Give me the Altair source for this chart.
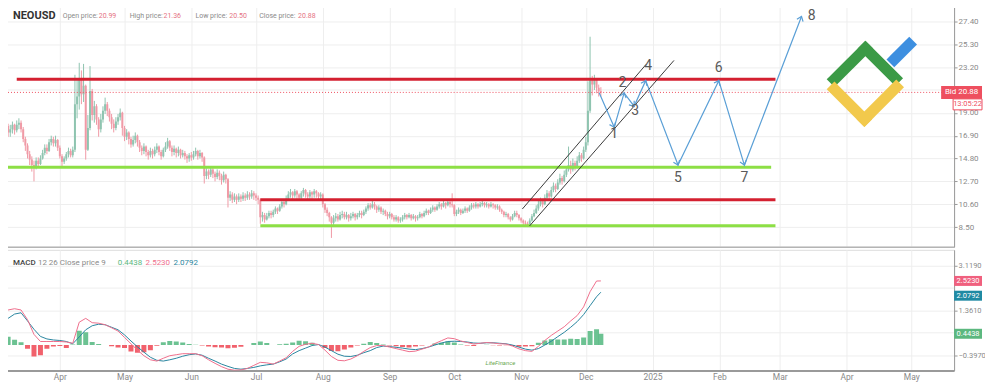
import math
import altair as alt
import pandas as pd

# ---------------- data ----------------
START = "2024-03-05"
FIRST_OPEN = 18.9
close = [
    16.6, 17.3, 17.8, 17.2, 17.5, 17.9, 17.4, 17.9, 18.1, 17.5,
    16.6, 16.0, 15.2, 14.7, 14.2, 14.0, 14.6, 14.3, 14.8, 15.3,
    15.8, 15.5, 16.3, 16.6, 16.2, 16.5, 15.8, 15.0, 14.5, 14.8,
    15.2, 15.5, 15.1, 15.6, 19.8, 20.5, 22.2, 20.7, 21.5, 15.6,
    17.6, 21.0, 18.8, 19.6, 18.4, 17.5, 18.4, 19.2, 19.8, 19.2,
    18.6, 18.0, 17.6, 18.2, 18.6, 19.0, 17.6, 16.8, 17.2, 16.6,
    16.1, 16.5, 16.9, 16.3, 15.8, 15.5, 15.9, 15.4, 15.1, 15.5,
    15.2, 15.6, 15.9, 15.4, 15.0, 15.6, 15.9, 16.4, 15.8, 15.4,
    15.7, 15.3, 15.6, 15.1, 15.3, 15.0, 14.8, 15.1, 14.9, 15.2,
    15.5, 15.0, 15.3, 14.9, 13.2, 13.6, 13.3, 13.8, 13.4, 13.1,
    13.5, 13.2, 12.8, 13.3, 12.9, 11.2, 11.5, 11.0, 11.3, 11.0,
    11.3, 11.1, 11.4, 11.2, 11.5, 11.3, 11.6, 11.4, 11.2, 11.0,
    9.4, 9.6, 9.2, 9.5, 9.8, 9.6, 9.9, 10.2, 10.0, 10.4,
    10.8, 10.6, 11.1, 11.5, 11.7, 11.4, 11.8, 11.5, 11.2, 11.6,
    11.9, 11.5, 11.3, 11.7, 11.5, 11.8, 11.6, 11.3, 11.5, 10.6,
    10.1, 9.8, 9.4, 8.9, 9.3, 9.5, 9.2, 9.6, 9.7, 9.4,
    9.6, 9.3, 9.5, 9.7, 9.4, 9.6, 9.8, 9.6, 9.9, 10.2,
    10.5, 10.3, 10.6, 10.4, 10.1, 10.3, 9.9, 10.0, 9.7, 9.5,
    9.7, 9.4, 9.2, 9.4, 9.1, 9.2, 9.4, 9.6, 9.4, 9.6,
    9.3, 9.5, 9.3, 9.4, 9.7, 9.5, 9.8, 10.0, 9.8, 10.1,
    10.3, 10.1, 10.4, 10.6, 10.4, 10.7, 10.5, 10.8, 10.6, 10.5,
    9.7, 9.9, 10.1, 9.8, 10.0, 10.2, 10.0, 10.3, 10.5, 10.4,
    10.6, 10.4, 10.6, 10.7, 10.5, 10.6, 10.4, 10.6, 10.5, 10.3,
    10.4, 10.1, 9.9, 9.6, 9.7, 9.4, 9.2, 9.5, 9.8, 9.6,
    9.3, 9.1, 8.9, 8.8, 8.7, 9.1, 9.5, 9.8, 10.2, 10.6,
    10.9, 10.6, 11.2, 11.6, 11.3, 11.9, 12.3, 12.0, 12.6, 13.0,
    12.7, 13.3, 13.8, 14.2, 13.8, 14.4, 14.0, 14.6, 15.1, 14.8,
    15.6, 16.3, 19.2, 22.0, 21.6, 22.1, 21.3, 20.99, 20.88,
]
high = [
    19.0, 17.8, 18.1, 18.0, 17.9, 18.2, 18.0, 18.3, 18.5, 18.3,
    17.7, 16.8, 16.2, 15.5, 15.0, 14.6, 14.9, 14.9, 15.1, 15.6,
    16.1, 16.1, 16.6, 16.9, 16.8, 16.9, 16.6, 16.0, 15.2, 15.0,
    15.4, 15.8, 15.7, 15.9, 22.5, 22.0, 23.6, 22.9, 23.5, 21.6,
    18.8, 23.3, 21.2, 20.1, 19.8, 18.6, 18.9, 19.6, 20.4, 20.0,
    19.4, 18.9, 18.4, 18.6, 18.9, 19.4, 19.1, 17.8, 17.5, 17.3,
    16.8, 16.9, 17.2, 17.0, 16.5, 16.0, 16.2, 16.0, 15.6, 15.8,
    15.7, 15.9, 16.2, 16.0, 15.6, 15.8, 16.3, 16.7, 16.5, 16.0,
    16.0, 15.8, 15.9, 15.7, 15.6, 15.5, 15.2, 15.3, 15.4, 15.5,
    15.8, 15.6, 15.6, 15.4, 15.0, 13.9, 13.8, 14.0, 13.9, 13.6,
    13.8, 13.7, 13.4, 13.6, 13.4, 13.0, 11.8, 11.7, 11.6, 11.5,
    11.6, 11.5, 11.7, 11.6, 11.8, 11.7, 11.9, 11.8, 11.6, 11.4,
    11.1, 9.9, 9.8, 9.8, 10.0, 10.0, 10.1, 10.4, 10.3, 10.6,
    11.0, 11.0, 11.4, 11.8, 12.0, 11.8, 12.0, 11.9, 11.6, 11.8,
    12.1, 12.0, 11.7, 11.9, 11.8, 12.0, 11.9, 11.7, 11.7, 11.6,
    10.7, 10.3, 9.9, 9.5, 9.6, 9.8, 9.7, 9.9, 10.0, 9.9,
    9.9, 9.7, 9.8, 9.9, 9.8, 9.8, 10.0, 10.0, 10.1, 10.4,
    10.7, 10.7, 10.9, 10.8, 10.5, 10.5, 10.4, 10.2, 10.1, 9.9,
    9.9, 9.8, 9.6, 9.6, 9.5, 9.4, 9.6, 9.8, 9.7, 9.8,
    9.7, 9.7, 9.6, 9.6, 9.9, 9.8, 10.0, 10.2, 10.1, 10.3,
    10.5, 10.4, 10.6, 10.8, 10.7, 10.9, 10.8, 11.0, 10.9, 11.6,
    10.6, 10.1, 10.3, 10.2, 10.2, 10.4, 10.3, 10.5, 10.7, 10.7,
    10.8, 10.7, 10.8, 10.9, 10.8, 10.8, 10.7, 10.8, 10.7, 10.6,
    10.6, 10.5, 10.2, 10.0, 9.9, 9.8, 9.5, 9.7, 10.0, 10.0,
    9.7, 9.4, 9.2, 9.1, 9.0, 9.3, 9.7, 10.1, 10.5, 10.9,
    11.2, 11.1, 11.5, 11.9, 11.8, 12.2, 12.6, 12.5, 12.9, 13.4,
    13.2, 13.7, 14.1, 15.9, 14.6, 14.8, 14.6, 15.0, 15.4, 15.3,
    15.9, 16.8, 21.9, 26.0, 22.4, 22.5, 22.2, 21.6, 21.36,
]
low = [
    14.4, 16.2, 16.9, 16.8, 16.8, 17.1, 17.0, 17.2, 17.5, 17.2,
    16.3, 15.5, 14.8, 14.2, 13.6, 12.7, 13.8, 14.0, 14.2, 14.7,
    15.1, 15.2, 15.4, 16.0, 15.9, 15.9, 15.5, 14.8, 14.1, 14.3,
    14.6, 14.9, 14.9, 14.9, 15.4, 18.5, 19.3, 19.8, 20.0, 14.7,
    15.5, 17.4, 18.3, 18.1, 17.9, 16.8, 17.2, 18.1, 18.9, 18.7,
    18.2, 17.5, 17.2, 17.4, 17.9, 18.3, 16.9, 16.4, 16.5, 16.1,
    15.8, 15.9, 16.2, 15.9, 15.4, 15.1, 15.2, 15.0, 14.7, 14.9,
    14.8, 15.0, 15.3, 15.1, 14.7, 14.9, 15.4, 15.7, 15.5, 15.0,
    15.1, 14.9, 15.0, 14.8, 14.9, 14.7, 14.4, 14.5, 14.6, 14.7,
    15.0, 14.7, 14.8, 14.5, 12.5, 12.9, 12.9, 13.1, 13.0, 12.7,
    12.9, 12.8, 12.4, 12.6, 12.5, 10.3, 10.9, 10.7, 10.8, 10.6,
    10.8, 10.8, 10.9, 10.9, 11.0, 11.0, 11.1, 11.0, 10.9, 10.6,
    8.8, 9.0, 8.9, 9.1, 9.3, 9.3, 9.4, 9.7, 9.7, 9.9,
    10.2, 10.3, 10.5, 10.9, 11.2, 11.1, 11.2, 11.1, 10.9, 11.0,
    11.3, 11.2, 11.0, 11.1, 11.1, 11.2, 11.2, 11.0, 11.0, 10.3,
    9.8, 9.5, 9.0, 7.5, 8.7, 9.0, 9.0, 9.1, 9.3, 9.2,
    9.2, 9.0, 9.1, 9.3, 9.1, 9.2, 9.4, 9.3, 9.5, 9.7,
    10.0, 10.1, 10.2, 10.1, 9.8, 9.9, 9.7, 9.6, 9.5, 9.2,
    9.3, 9.2, 9.0, 9.0, 8.9, 8.9, 9.0, 9.2, 9.2, 9.3,
    9.1, 9.2, 9.0, 9.1, 9.3, 9.3, 9.4, 9.6, 9.6, 9.7,
    9.9, 9.9, 10.0, 10.2, 10.1, 10.3, 10.2, 10.4, 10.3, 10.3,
    9.5, 9.5, 9.7, 9.6, 9.7, 9.8, 9.8, 9.9, 10.1, 10.2,
    10.2, 10.2, 10.3, 10.4, 10.3, 10.3, 10.2, 10.3, 10.2, 10.1,
    10.1, 9.9, 9.7, 9.4, 9.4, 9.2, 9.0, 9.1, 9.4, 9.4,
    9.1, 8.9, 8.7, 8.6, 8.5, 8.6, 9.0, 9.4, 9.7, 10.0,
    10.4, 10.3, 10.5, 11.0, 11.0, 11.2, 11.7, 11.7, 11.9, 12.4,
    12.4, 12.6, 13.1, 13.6, 13.4, 13.6, 13.7, 13.9, 14.4, 14.5,
    14.7, 15.4, 16.0, 19.0, 20.6, 21.1, 20.8, 20.5, 20.50,
]

# MACD indicator, read every 3rd day
MACD_STEP_DAYS = list(range(0, 277, 3)) + [278]
macd_vals = [
    1.29, 1.38, 1.43, 1.38, 1.0, 0.42, 0.14, 0.14, 0.14, 0.14,
    0.12, 0.07, 0.9, 1.05, 0.88, 0.86, 0.8, 0.68, 0.55, 0.3,
    0.05, -0.2, -0.42, -0.58, -0.63, -0.52, -0.42, -0.38, -0.34, -0.34,
    -0.34, -0.42, -0.58, -0.72, -0.85, -0.95, -0.99, -0.98, -0.92, -0.8,
    -0.68, -0.7, -0.75, -0.63, -0.5, -0.25, -0.05, 0.03, 0.07, 0.02,
    -0.2, -0.45, -0.6, -0.62, -0.55, -0.42, -0.25, -0.1, -0.02, -0.02,
    -0.08, -0.14, -0.2, -0.26, -0.24, -0.16, -0.08, 0.06, 0.17, 0.28,
    0.25, 0.16, 0.1, 0.04, 0.07, 0.1, 0.08, 0.05, 0.04, -0.04,
    -0.15, -0.22, -0.25, -0.05, 0.18, 0.38, 0.55, 0.72, 0.95, 1.16,
    1.5, 2.1, 2.52, 2.523,
]
signal_vals = [
    0.88, 1.05, 1.22, 1.27, 0.95, 0.62, 0.34, 0.24, 0.2, 0.18,
    0.14, 0.05, 0.32, 0.6, 0.76, 0.82, 0.8, 0.7, 0.6, 0.4,
    0.16, -0.07, -0.28, -0.48, -0.6, -0.63, -0.58, -0.52, -0.44, -0.38,
    -0.35, -0.4, -0.52, -0.63, -0.75, -0.84, -0.92, -0.95, -0.92, -0.88,
    -0.82, -0.78, -0.75, -0.66, -0.55, -0.35, -0.22, -0.12, -0.02, 0.02,
    -0.08, -0.22, -0.36, -0.44, -0.45, -0.4, -0.3, -0.22, -0.1, -0.04,
    -0.06, -0.09, -0.12, -0.16, -0.18, -0.14, -0.08, 0.0, 0.08, 0.14,
    0.15, 0.14, 0.12, 0.08, 0.07, 0.09, 0.09, 0.07, 0.05, 0.0,
    -0.08, -0.16, -0.2, -0.14, 0.0, 0.15, 0.33, 0.5, 0.7, 0.92,
    1.2, 1.55, 1.9, 2.0792,
]
hist_vals = [
    0.4, 0.33, 0.21, 0.11, -0.15, -0.45, -0.4, -0.15, -0.06, -0.04,
    -0.12, 0.02, 0.56, 0.5, 0.12, 0.04, 0.0, -0.05, -0.1, -0.12,
    -0.25, -0.3, -0.28, -0.2, -0.03, 0.11, 0.16, 0.14, 0.1, 0.04,
    0.01, -0.02, -0.06, -0.09, -0.1, -0.13, -0.11, -0.07, 0.0, 0.08,
    0.14, 0.08, 0.0, 0.03, 0.05, 0.1, 0.17, 0.15, 0.09, 0.0,
    -0.12, -0.23, -0.24, -0.18, -0.1, -0.02, 0.05, 0.12, 0.08, 0.02,
    -0.02, -0.05, -0.08, -0.1, -0.06, -0.02, 0.0, 0.06, 0.09, 0.14,
    0.1, 0.02, -0.02, -0.04, 0.0, 0.01, -0.01, -0.02, -0.01, -0.04,
    -0.07, -0.06, -0.05, 0.09, 0.18, 0.23, 0.22, 0.22, 0.25, 0.24,
    0.3, 0.55, 0.62, 0.4438,
]

# support / resistance levels
level_kind = ["red", "green", "red", "green"]
level_price = [22.08, 14.0, 11.0, 8.62]
level_start = ["2024-03-12", "2024-03-07", "2024-07-03", "2024-07-03"]
level_end = ["2025-02-27", "2025-02-25", "2025-02-27", "2025-02-27"]

# rising channel
channel_start = ["2024-11-01T14:00", "2024-11-04T22:00"]
channel_start_price = [10.16, 8.60]
channel_end = ["2024-12-29T00:00", "2025-01-10T22:00"]
channel_end_price = [23.46, 23.82]

# forecast path
path_dates = ["2024-12-07T05:00", "2024-12-14T05:00", "2024-12-18T19:00", "2024-12-23T10:00",
              "2024-12-28T19:00", "2025-01-12T19:00", "2025-01-31T17:00", "2025-02-12T14:00",
              "2025-03-11T02:00"]
path_prices = [20.85, 17.68, 20.83, 19.61, 21.96, 14.2, 21.96, 14.2, 27.86]
wave_labels = ["1", "2", "3", "4", "5", "6", "7", "8"]
wave_label_dates = ["2024-12-14T05:00", "2024-12-18T00:00", "2024-12-23T22:00", "2024-12-29T22:00",
                    "2025-01-12T19:00", "2025-01-31T17:00", "2025-02-12T14:00", "2025-03-15T19:00"]
wave_label_prices = [17.04, 21.71, 19.15, 23.27, 13.0, 23.09, 13.0, 27.9]

BID = 20.88
price_ticks = [8.5, 10.6, 12.7, 14.8, 16.9, 19.0, 23.2, 25.3, 27.4]
price_hidden_ticks = [21.1]
macd_ticks = [3.119, 1.361, -0.397]
macd_hidden_ticks = [2.24, 0.482]
month_starts = ["2024-04-01", "2024-05-01", "2024-06-01", "2024-07-01", "2024-08-01", "2024-09-01",
                "2024-10-01", "2024-11-01", "2024-12-01", "2025-01-01", "2025-02-01", "2025-03-01",
                "2025-04-01", "2025-05-01"]

# ---------------- layout / style ----------------
W, H1, H2 = 956, 246, 121
X_DOM = ["2024-03-04T17:00", "2025-05-20T21:00"]
Y_DOM = [6.68, 29.23]
M_DOM = [-1.0, 3.747]
FONT = "Roboto"
UP, DOWN = "#8fc4b0", "#f09aa6"
RED, GREEN, BLUE = "#d42030", "#8ddf45", "#5a9fd6"
BIDC = "#ee4f5f"
PINK, TEAL = "#ef6f8d", "#2a86a0"
HGREEN, HRED = "#5cbb86", "#f0505c"
GRID = "#eeeeee"
AX = "#9a9a9a"
LBL = "#8a8a8a"


def iso(s):
    return pd.Timestamp(s).strftime("%Y-%m-%dT%H:%M:%SZ")


def ms(s):
    return int(pd.Timestamp(s).value // 10**6)


X0, X1 = ms(X_DOM[0]), ms(X_DOM[1])


def sx(s):
    return (ms(s) - X0) / (X1 - X0) * W


def sy(p):
    return (Y_DOM[1] - p) / (Y_DOM[1] - Y_DOM[0]) * H1


def my(v):
    return (M_DOM[1] - v) / (M_DOM[1] - M_DOM[0]) * H2


month_ts = [ms(m) for m in month_starts]
xscale = alt.Scale(type="utc", domain=[X0, X1], padding=0)

P_XAXIS = alt.Axis(values=month_ts, labels=False, ticks=False, grid=True, gridColor=GRID,
                   domain=True, domainColor="#b4b4b4", domainWidth=1.5, title=None)
P_YAXIS = alt.Axis(orient="right", values=price_ticks, format=".2f", grid=True, gridColor=GRID,
                   labelColor=LBL, labelFontSize=8, labelFont=FONT, tickColor=AX, tickSize=3,
                   domainColor=AX, labelOverlap=False, labelPadding=1, title=None)
M_XAXIS = alt.Axis(values=month_ts,
                   labelExpr="utcFormat(datum.value, '%m') == '01' ? utcFormat(datum.value, '%Y') : utcFormat(datum.value, '%b')",
                   labelColor=LBL, labelFontSize=8.5, labelFont=FONT, labelPadding=2, ticks=False,
                   grid=True, gridColor=GRID, domainColor=AX, domainWidth=2, labelFlush=False,
                   labelOverlap=False, title=None)
M_YAXIS = alt.Axis(orient="right", values=macd_ticks, format=".4f", grid=True, gridColor=GRID,
                   labelColor=LBL, labelFontSize=7.5, labelFont=FONT, tickColor=AX, tickSize=3,
                   domainColor=AX, labelOverlap=False, labelPadding=1, title=None)


def PX(f="date"):
    return alt.X(f"{f}:T", scale=xscale, axis=P_XAXIS)


def PY(f):
    return alt.Y(f"{f}:Q", scale=alt.Scale(domain=Y_DOM, zero=False, nice=False, padding=0), axis=P_YAXIS)


def MX(f="date"):
    return alt.X(f"{f}:T", scale=xscale, axis=M_XAXIS)


def MY(f):
    return alt.Y(f"{f}:Q", scale=alt.Scale(domain=M_DOM, zero=False, nice=False, padding=0), axis=M_YAXIS)


ONE = alt.Data(values=[{"k": 1}])


def label(text, x, y, color, size, weight="normal", align="left", style="normal"):
    return alt.Chart(ONE).mark_text(text=text, color=color, fontSize=size, fontWeight=weight,
                                    font=FONT, align=align, baseline="middle", fontStyle=style).encode(
        x=alt.value(x), y=alt.value(y))


def box(x1, x2, y1, y2, fill, stroke=None):
    kw = dict(fill=fill)
    if stroke:
        kw.update(stroke=stroke, strokeWidth=1)
    return alt.Chart(ONE).mark_rect(**kw).encode(x=alt.value(x1), x2=alt.value(x2),
                                                  y=alt.value(y1), y2=alt.value(y2))


# ---------------- price panel ----------------
n = len(close)
dates = [iso(pd.Timestamp(START) + pd.Timedelta(days=i)) for i in range(n)]
opens = [FIRST_OPEN] + close[:-1]
cdf = pd.DataFrame({"date": dates, "open": opens, "high": high, "low": low, "close": close})
up_df = cdf[cdf["close"] >= cdf["open"]]
dn_df = cdf[cdf["close"] < cdf["open"]]

layers = [alt.Chart(pd.DataFrame({"p": price_hidden_ticks})).mark_rule(color=GRID, strokeWidth=1).encode(
    y=PY("p"))]
for d, c in ((up_df, UP), (dn_df, DOWN)):
    layers.append(alt.Chart(d).mark_rule(color=c, strokeWidth=1, clip=True).encode(
        x=PX(), y=PY("low"), y2=alt.Y2("high:Q")))
    layers.append(alt.Chart(d).mark_bar(color=c, size=2, clip=True).encode(
        x=PX(), y=PY("open"), y2=alt.Y2("close:Q")))

ldf = pd.DataFrame({"kind": level_kind, "price": level_price,
                    "start": [iso(s) for s in level_start], "end": [iso(s) for s in level_end]})
for kind, c in (("green", GREEN), ("red", RED)):
    layers.append(alt.Chart(ldf[ldf["kind"] == kind]).mark_rule(color=c, strokeWidth=3, clip=True).encode(
        x=PX("start"), x2=alt.X2("end:T"), y=PY("price")))

layers.append(alt.Chart(pd.DataFrame({"p": [BID]})).mark_rule(
    color=BIDC, strokeDash=[1, 2], strokeWidth=1).encode(y=PY("p")))

chdf = pd.DataFrame({"s": [iso(s) for s in channel_start], "sp": channel_start_price,
                     "e": [iso(s) for s in channel_end], "ep": channel_end_price})
layers.append(alt.Chart(chdf).mark_rule(color="#3a3a3a", strokeWidth=1).encode(
    x=PX("s"), x2=alt.X2("e:T"), y=PY("sp"), y2=alt.Y2("ep:Q")))

pdf = pd.DataFrame({"date": [iso(s) for s in path_dates], "price": path_prices,
                    "step": list(range(len(path_dates)))})
layers.append(alt.Chart(pdf).mark_line(color=BLUE, strokeWidth=1.2).encode(
    x=PX(), y=PY("price"), order="step:Q"))

angles = []
for k in range(1, len(path_dates)):
    dx = sx(path_dates[k]) - sx(path_dates[k - 1])
    dy = sy(path_prices[k]) - sy(path_prices[k - 1])
    angles.append(math.degrees(math.atan2(dx, -dy)) % 360)
adf = pd.DataFrame({"date": [iso(s) for s in path_dates[1:]], "price": path_prices[1:], "angle": angles})
CHEV = "M-0.7,0.9L0,0L0.7,0.9"
layers.append(alt.Chart(adf).mark_point(shape=CHEV, filled=False, stroke=BLUE, strokeWidth=1.2,
                                        size=90, opacity=1).encode(
    x=PX(), y=PY("price"), angle=alt.Angle("angle:Q", scale=None)))

wdf = pd.DataFrame({"date": [iso(s) for s in wave_label_dates], "price": wave_label_prices,
                    "label": wave_labels})
layers.append(alt.Chart(wdf).mark_text(fontSize=14, color="#5a5a5a", font=FONT).encode(
    x=PX(), y=PY("price"), text="label:N"))

# logo (decorative)
for (x1, y1, x2, y2, c) in [
    (836, 78, 867, 47, "#3b9a46"), (867, 47, 897, 77, "#3b9a46"),
    (836, 88, 866, 118, "#f2c94c"), (866, 118, 898, 86, "#f2c94c"),
    (896, 58, 911, 43, "#3d8fe0"),
]:
    layers.append(alt.Chart(ONE).mark_rule(color=c, strokeWidth=11, strokeCap="square").encode(
        x=alt.value(x1), x2=alt.value(x2), y=alt.value(y1), y2=alt.value(y2)))

# bid tag
by = sy(BID)
layers.append(box(943, 984, by - 6.5, by + 6.5, BIDC))
layers.append(label("Bid 20.88", 963.5, by, "white", 8, align="center"))
layers.append(box(955, 984, by + 6.5, by + 17.5, "white", BIDC))
layers.append(label("13:05:22", 969.5, by + 12, BIDC, 7.5, align="center"))

# header
layers += [
    label("NEOUSD", 12, 14, "#333333", 11, weight="bold"),
    label("Open price:", 62, 14, LBL, 7),
    label("20.99", 98, 14, "#e57383", 7),
    label("High price:", 129, 14, LBL, 7),
    label("21.36", 163, 14, "#e57383", 7),
    label("Low price:", 195, 14, LBL, 7),
    label("20.50", 229, 14, "#e57383", 7),
    label("Close price:", 259, 14, LBL, 7),
    label("20.88", 298, 14, "#e57383", 7),
]

price_panel = alt.layer(*layers).properties(width=W, height=H1)

# ---------------- MACD panel ----------------
mdates = [iso(pd.Timestamp(START) + pd.Timedelta(days=i)) for i in MACD_STEP_DAYS]
mdf = pd.DataFrame({"date": mdates, "macd": macd_vals, "signal": signal_vals, "hist": hist_vals})
mlayers = [
    alt.Chart(pd.DataFrame({"v": macd_hidden_ticks})).mark_rule(color=GRID, strokeWidth=1).encode(y=MY("v")),
    alt.Chart(mdf[mdf["hist"] >= 0]).mark_bar(color=HGREEN, size=5, opacity=0.9, clip=True).encode(
        x=MX(), y=MY("hist"), y2=alt.datum(0)),
    alt.Chart(mdf[mdf["hist"] < 0]).mark_bar(color=HRED, size=5, opacity=0.9, clip=True).encode(
        x=MX(), y=MY("hist"), y2=alt.datum(0)),
    alt.Chart(mdf).mark_line(color=TEAL, strokeWidth=1, clip=True).encode(x=MX(), y=MY("signal")),
    alt.Chart(mdf).mark_line(color=PINK, strokeWidth=1, clip=True).encode(x=MX(), y=MY("macd")),
]
my1, my2, my3 = my(2.523), my(2.0792) + 3.5, my(0.4438)
mlayers += [
    box(956, 984, my1 - 5, my1 + 5, "#f0607e"),
    label("2.5230", 958.5, my1, "white", 7.5),
    box(956, 984, my2 - 5, my2 + 5, "#1f8aa3"),
    label("2.0792", 958.5, my2, "white", 7.5),
    box(956, 984, my3 - 5, my3 + 5, "#5cb87f"),
    label("0.4438", 958.5, my3, "white", 7.5),
    label("MACD", 12, 13, "#444444", 8, weight=500),
    label("12 26 Close price 9", 37, 13, LBL, 8),
    label("0.4438", 117, 13, "#5cb87f", 8),
    label("2.5230", 145, 13, "#ef6f8d", 8),
    label("2.0792", 173, 13, "#2a86a0", 8),
    label("LiteFinance", 486, 114, "#6aa84f", 6, style="italic"),
]
macd_panel = alt.layer(*mlayers).properties(width=W, height=H2)

chart = alt.vconcat(price_panel, macd_panel, spacing=1).properties(
    padding={"left": -8, "top": -8, "right": -1, "bottom": 0},
    background="white",
).configure_view(strokeWidth=0).configure(font=FONT)

chart.save("out.html", embed_options={"renderer": "svg", "actions": False})
